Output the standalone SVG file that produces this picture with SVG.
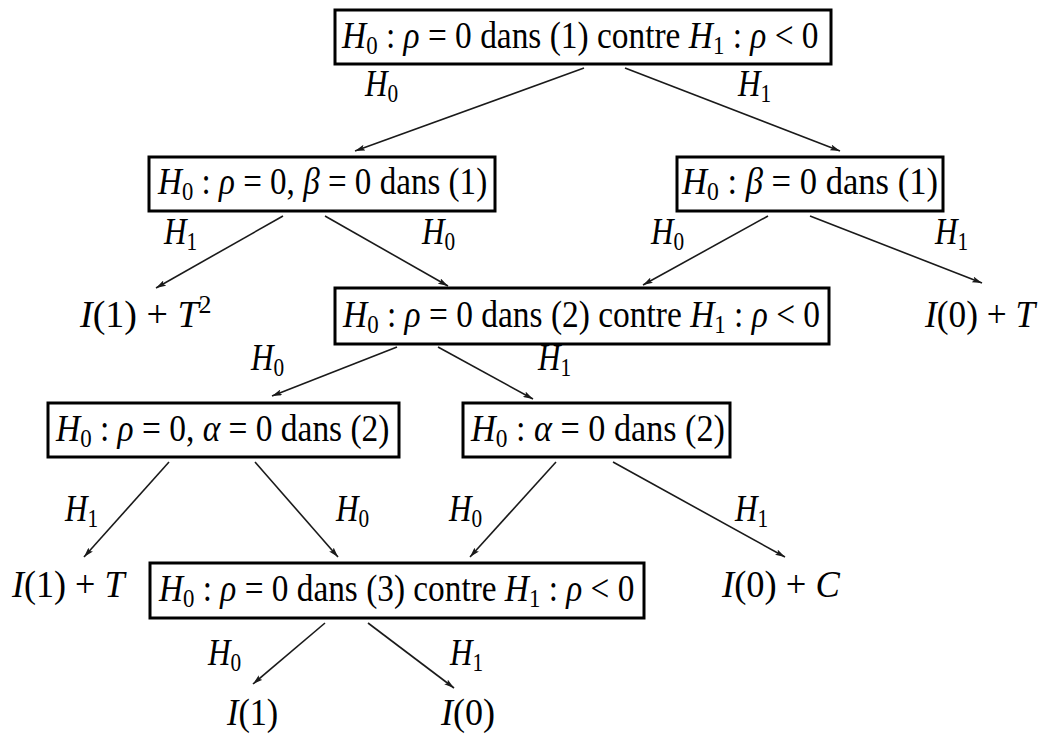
<svg xmlns="http://www.w3.org/2000/svg" width="1042" height="736" viewBox="0 0 1042 736">
<defs>
<style>
text{font-family:"Liberation Serif","DejaVu Serif",serif;font-size:38px;fill:#000}
.i{font-style:italic}
.s{font-size:26px}
.box{fill:#fff;stroke:#000;stroke-width:3}
.arr{stroke:#1a1a1a;stroke-width:1.6;fill:none;marker-end:url(#ah)}
</style>
<marker id="ah" viewBox="0 0 10 6" refX="10" refY="3" markerWidth="10" markerHeight="6" markerUnits="userSpaceOnUse" orient="auto">
<path d="M0,0 L10,3 L0,6 L2,3 z" fill="#1a1a1a"/>
</marker>
</defs>
<rect width="1042" height="736" fill="#fff"/>

<g id="connectors">
<line class="arr" x1="584" y1="68" x2="355" y2="151"/>
<line class="arr" x1="625" y1="68" x2="840" y2="151"/>
<line class="arr" x1="283" y1="216" x2="156" y2="288"/>
<line class="arr" x1="325" y1="216" x2="448" y2="286"/>
<line class="arr" x1="768" y1="216" x2="643" y2="285"/>
<line class="arr" x1="810" y1="216" x2="982" y2="283"/>
<line class="arr" x1="397" y1="347" x2="272" y2="396"/>
<line class="arr" x1="438" y1="347" x2="533" y2="399"/>
<line class="arr" x1="169" y1="462" x2="84" y2="557"/>
<line class="arr" x1="255" y1="462" x2="338" y2="557"/>
<line class="arr" x1="556" y1="462" x2="470" y2="557"/>
<line class="arr" x1="613" y1="462" x2="785" y2="557"/>
<line class="arr" x1="325" y1="623" x2="253" y2="684"/>
<line class="arr" x1="368" y1="623" x2="454" y2="688"/>
</g>

<g id="n1">
<rect class="box" x="335" y="10" width="496" height="54"/>
<text transform="matrix(0.879 0 0 1 342 48)"><tspan class="i">H</tspan><tspan class="s" dy="6">0</tspan><tspan dy="-6"> : </tspan><tspan class="i">ρ</tspan> = 0 dans (1) contre <tspan class="i">H</tspan><tspan class="s" dy="6">1</tspan><tspan dy="-6"> : </tspan><tspan class="i">ρ</tspan> &lt; 0</text>
</g>

<g id="n2">
<rect class="box" x="149" y="157" width="346" height="54"/>
<text transform="matrix(0.871 0 0 1 158 194)"><tspan class="i">H</tspan><tspan class="s" dy="6">0</tspan><tspan dy="-6"> : </tspan><tspan class="i">ρ</tspan> = 0, <tspan class="i">β</tspan> = 0 dans (1)</text>
</g>

<g id="n3">
<rect class="box" x="677" y="157" width="266" height="54"/>
<text transform="matrix(0.91 0 0 1 682 194)"><tspan class="i">H</tspan><tspan class="s" dy="6">0</tspan><tspan dy="-6"> : </tspan><tspan class="i">β</tspan> = 0 dans (1)</text>
</g>

<g id="n4">
<rect class="box" x="335" y="288" width="494" height="56"/>
<text transform="matrix(0.88 0 0 1 343 327)"><tspan class="i">H</tspan><tspan class="s" dy="6">0</tspan><tspan dy="-6"> : </tspan><tspan class="i">ρ</tspan> = 0 dans (2) contre <tspan class="i">H</tspan><tspan class="s" dy="6">1</tspan><tspan dy="-6"> : </tspan><tspan class="i">ρ</tspan> &lt; 0</text>
</g>

<g id="n5">
<rect class="box" x="48" y="403" width="351" height="54"/>
<text transform="matrix(0.88 0 0 1 56 441)"><tspan class="i">H</tspan><tspan class="s" dy="6">0</tspan><tspan dy="-6"> : </tspan><tspan class="i">ρ</tspan> = 0, <tspan class="i">α</tspan> = 0 dans (2)</text>
</g>

<g id="n6">
<rect class="box" x="463" y="403" width="267" height="54"/>
<text transform="matrix(0.9 0 0 1 471 441)"><tspan class="i">H</tspan><tspan class="s" dy="6">0</tspan><tspan dy="-6"> : </tspan><tspan class="i">α</tspan> = 0 dans (2)</text>
</g>

<g id="n7">
<rect class="box" x="150" y="563" width="494" height="55"/>
<text transform="matrix(0.877 0 0 1 159 601)"><tspan class="i">H</tspan><tspan class="s" dy="6">0</tspan><tspan dy="-6"> : </tspan><tspan class="i">ρ</tspan> = 0 dans (3) contre <tspan class="i">H</tspan><tspan class="s" dy="6">1</tspan><tspan dy="-6"> : </tspan><tspan class="i">ρ</tspan> &lt; 0</text>
</g>

<g id="leaf1"><text transform="matrix(1 0 0 1 80 327)"><tspan class="i">I</tspan>(1) + <tspan class="i">T</tspan><tspan class="s" dy="-14">2</tspan></text></g>
<g id="leaf2"><text transform="matrix(0.93 0 0 1 925 327)"><tspan class="i">I</tspan>(0) + <tspan class="i">T</tspan></text></g>
<g id="leaf3"><text transform="matrix(0.95 0 0 1 12 597)"><tspan class="i">I</tspan>(1) + <tspan class="i">T</tspan></text></g>
<g id="leaf4"><text transform="matrix(0.96 0 0 1 722 597)"><tspan class="i">I</tspan>(0) + <tspan class="i">C</tspan></text></g>
<g id="leaf5"><text transform="matrix(0.9 0 0 1 227 725)"><tspan class="i">I</tspan>(1)</text></g>
<g id="leaf6"><text transform="matrix(0.95 0 0 1 441 725)"><tspan class="i">I</tspan>(0)</text></g>

<g id="labels">
<text transform="matrix(0.82 0 0 1 365 96)"><tspan class="i">H</tspan><tspan class="s" dy="6">0</tspan></text>
<text transform="matrix(0.82 0 0 1 738 96)"><tspan class="i">H</tspan><tspan class="s" dy="6">1</tspan></text>
<text transform="matrix(0.82 0 0 1 164 244)"><tspan class="i">H</tspan><tspan class="s" dy="6">1</tspan></text>
<text transform="matrix(0.82 0 0 1 422 244)"><tspan class="i">H</tspan><tspan class="s" dy="6">0</tspan></text>
<text transform="matrix(0.82 0 0 1 651 244)"><tspan class="i">H</tspan><tspan class="s" dy="6">0</tspan></text>
<text transform="matrix(0.82 0 0 1 935 244)"><tspan class="i">H</tspan><tspan class="s" dy="6">1</tspan></text>
<text transform="matrix(0.82 0 0 1 251 370)"><tspan class="i">H</tspan><tspan class="s" dy="6">0</tspan></text>
<text transform="matrix(0.82 0 0 1 538 370)"><tspan class="i">H</tspan><tspan class="s" dy="6">1</tspan></text>
<text transform="matrix(0.82 0 0 1 65 521)"><tspan class="i">H</tspan><tspan class="s" dy="6">1</tspan></text>
<text transform="matrix(0.82 0 0 1 336 521)"><tspan class="i">H</tspan><tspan class="s" dy="6">0</tspan></text>
<text transform="matrix(0.82 0 0 1 449 521)"><tspan class="i">H</tspan><tspan class="s" dy="6">0</tspan></text>
<text transform="matrix(0.82 0 0 1 735 521)"><tspan class="i">H</tspan><tspan class="s" dy="6">1</tspan></text>
<text transform="matrix(0.82 0 0 1 208 665)"><tspan class="i">H</tspan><tspan class="s" dy="6">0</tspan></text>
<text transform="matrix(0.82 0 0 1 450 665)"><tspan class="i">H</tspan><tspan class="s" dy="6">1</tspan></text>
</g>
</svg>
